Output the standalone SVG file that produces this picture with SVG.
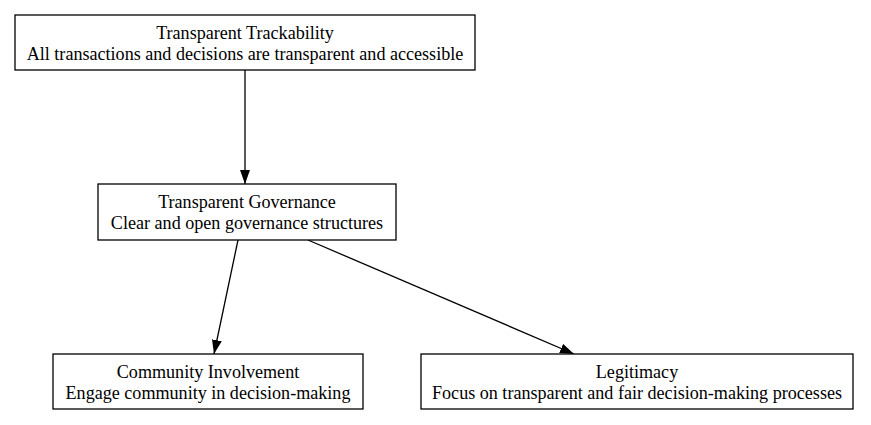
<svg xmlns="http://www.w3.org/2000/svg" width="871" height="425" viewBox="0 0 871 425">
<style>
.box{fill:#fff;stroke:#000;stroke-width:1.3}
.t{font-family:"Liberation Serif","Times New Roman",serif;font-size:18.1px;text-anchor:middle;fill:#000}
.e{stroke:#000;stroke-width:1.3;fill:none}
</style>
<defs>
<marker id="ah" viewBox="0 0 14 10" refX="14" refY="5" markerWidth="14" markerHeight="10" markerUnits="userSpaceOnUse" orient="auto">
<path d="M0,0 L14,5 L0,10 Z" fill="#000"/>
</marker>
</defs>
<rect width="871" height="425" fill="#fff"/>
<g id="edges">
<line class="e" x1="245" y1="70" x2="245" y2="184" marker-end="url(#ah)"/>
<line class="e" x1="238" y1="240" x2="214" y2="354" marker-end="url(#ah)"/>
<line class="e" x1="308" y1="240" x2="574" y2="354" marker-end="url(#ah)"/>
</g>
<g id="n1">
<rect class="box" x="15" y="15" width="460" height="55"/>
<text class="t" x="245" y="38.5">Transparent Trackability</text>
<text class="t" x="245" y="59.5">All transactions and decisions are transparent and accessible</text>
</g>
<g id="n2">
<rect class="box" x="98" y="184" width="298" height="56"/>
<text class="t" x="247" y="208">Transparent Governance</text>
<text class="t" x="247" y="229">Clear and open governance structures</text>
</g>
<g id="n3">
<rect class="box" x="53" y="354" width="310" height="55"/>
<text class="t" x="208" y="377.5">Community Involvement</text>
<text class="t" x="208" y="398.5">Engage community in decision-making</text>
</g>
<g id="n4">
<rect class="box" x="421" y="354" width="432" height="55"/>
<text class="t" x="637" y="377.5">Legitimacy</text>
<text class="t" x="637" y="398.5">Focus on transparent and fair decision-making processes</text>
</g>
</svg>
